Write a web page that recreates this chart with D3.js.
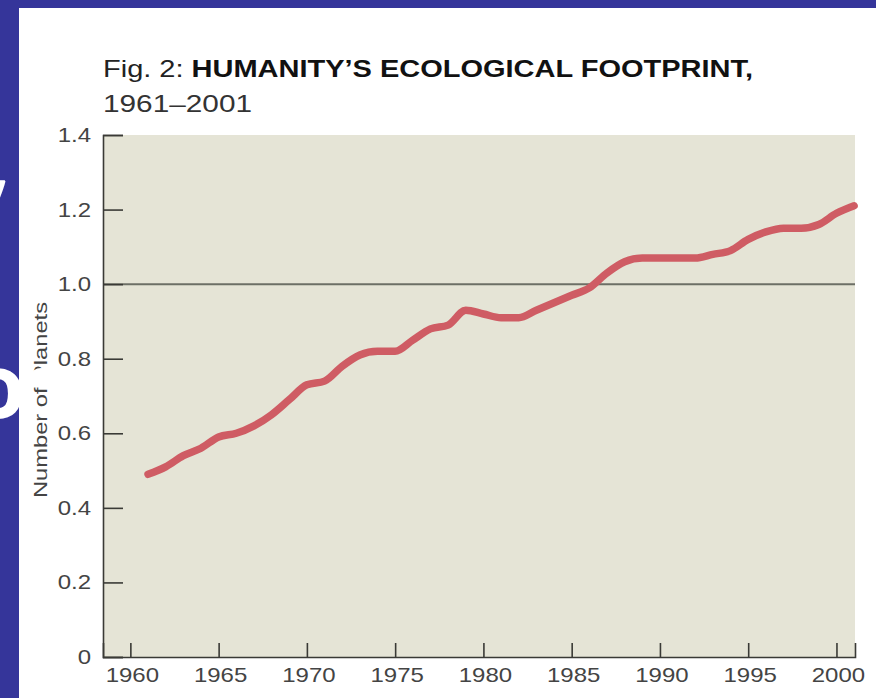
<!DOCTYPE html>
<html><head><meta charset="utf-8">
<script src="https://cdn.jsdelivr.net/npm/d3@7"></script>
<style>html,body{margin:0;padding:0;background:#fff;}svg{display:block;}</style>
</head><body>
<script>
const years = d3.range(1961, 2002);
const planets = [0.49,0.51,0.54,0.56,0.59,0.60,0.62,0.65,0.69,0.73,
                 0.74,0.78,0.81,0.82,0.82,0.85,0.88,0.89,0.93,0.92,
                 0.91,0.91,0.93,0.95,0.97,0.99,1.03,1.06,1.07,1.07,
                 1.07,1.07,1.08,1.09,1.12,1.14,1.15,1.15,1.16,1.19,1.21];
const xTicks = [1960,1965,1970,1975,1980,1985,1990,1995,2000];
const yTicks = [0,0.2,0.4,0.6,0.8,1.0,1.2,1.4];
const yTickLabels = ["0","0.2","0.4","0.6","0.8","1.0","1.2","1.4"];
const refValue = 1.0;
const titleNormal = "Fig. 2: ";
const titleBold = "HUMANITY\u2019S ECOLOGICAL FOOTPRINT,";
const subtitle = "1961\u20132001";
const yTitle = "Number of Planets";

const W = 876, H = 698;
const svg = d3.select("body").append("svg").attr("width", W).attr("height", H);
const font = "'Liberation Sans', Arial, Helvetica, sans-serif";

// slide background
svg.append("rect").attr("width", W).attr("height", H).attr("fill", "#35359a");
svg.append("rect").attr("x", 19).attr("y", 8).attr("width", W - 19).attr("height", H - 8).attr("fill", "#ffffff");

const x = d3.scaleLinear().domain([1958.45, 2001.05]).range([103, 855]);
const y = d3.scaleLinear().domain([0, 1.4]).range([657, 135]);

// plot background
svg.append("rect").attr("x", x.range()[0]).attr("y", y(1.4))
  .attr("width", x.range()[1] - x.range()[0]).attr("height", y(0) - y(1.4))
  .attr("fill", "#e5e4d6");

// reference line at 1.0
svg.append("line").attr("x1", x.range()[0]).attr("x2", x.range()[1])
  .attr("y1", y(refValue)).attr("y2", y(refValue))
  .attr("stroke", "#6c6f66").attr("stroke-width", 2);

// axes
const yAxis = d3.axisLeft(y).tickValues(yTicks).tickSize(-20).tickFormat("");
const gy = svg.append("g").attr("transform", `translate(${x.range()[0]},0)`).call(yAxis);
const xAxis = d3.axisBottom(x).tickValues(xTicks).tickSize(-14).tickFormat("");
const gx = svg.append("g").attr("transform", `translate(0,${y(0)})`).call(xAxis);
[gy, gx].forEach(g => {
  g.selectAll("path").attr("stroke", "#3a3a36").attr("stroke-width", 1.6);
  g.selectAll("line").attr("stroke", "#3a3a36").attr("stroke-width", 1.6);
});

// tick labels (horizontally stretched like the source image)
const sx = 1.2;
svg.append("g").selectAll("text").data(yTicks).join("text")
  .attr("transform", d => `translate(91,${y(d) + 7}) scale(${sx},1)`)
  .attr("text-anchor", "end").attr("font-family", font).attr("font-size", 20)
  .attr("fill", "#444").text((d, i) => yTickLabels[i]);
svg.append("g").selectAll("text").data(xTicks).join("text")
  .attr("transform", d => `translate(${x(d) + 2},682) scale(${sx},1)`)
  .attr("text-anchor", "middle").attr("font-family", font).attr("font-size", 20)
  .attr("fill", "#444").text(d => d);

// y title
svg.append("text").attr("transform", "translate(47,400) rotate(-90)")
  .attr("text-anchor", "middle").attr("font-family", font).attr("font-size", 19)
  .attr("textLength", 196).attr("lengthAdjust", "spacingAndGlyphs")
  .attr("fill", "#444").text(yTitle);

// data line
const line = d3.line().x((d, i) => x(years[i])).y(d => y(d)).curve(d3.curveMonotoneX);
svg.append("path").datum(planets).attr("d", line)
  .attr("fill", "none").attr("stroke", "#cf5c64").attr("stroke-width", 7.5)
  .attr("stroke-linecap", "round").attr("stroke-linejoin", "round");

// title
const t = svg.append("text").attr("x", 103).attr("y", 77)
  .attr("font-family", font).attr("font-size", 24).attr("fill", "#222")
  .attr("textLength", 650).attr("lengthAdjust", "spacingAndGlyphs");
t.append("tspan").text(titleNormal);
t.append("tspan").attr("font-weight", "bold").attr("fill", "#111").text(titleBold);
svg.append("text").attr("x", 103).attr("y", 112)
  .attr("font-family", font).attr("font-size", 24).attr("fill", "#333")
  .attr("textLength", 149).attr("lengthAdjust", "spacingAndGlyphs").text(subtitle);

// fragments of slide text overlapping from the left (decorative)
svg.append("text").attr("x", -17).attr("y", 192)
  .attr("font-family", "'Open Sans', sans-serif").attr("font-weight", "bold")
  .attr("font-size", 100).attr("fill", "#fff").text(",");
svg.append("text").attr("x", -30).attr("y", 418)
  .attr("font-family", "'Open Sans', sans-serif").attr("font-weight", "bold")
  .attr("font-size", 90).attr("fill", "#fff").text("o");
svg.append("ellipse").attr("cx", 41).attr("cy", 376).attr("rx", 10).attr("ry", 8)
  .attr("fill", "#fff");
</script>
</body></html>
